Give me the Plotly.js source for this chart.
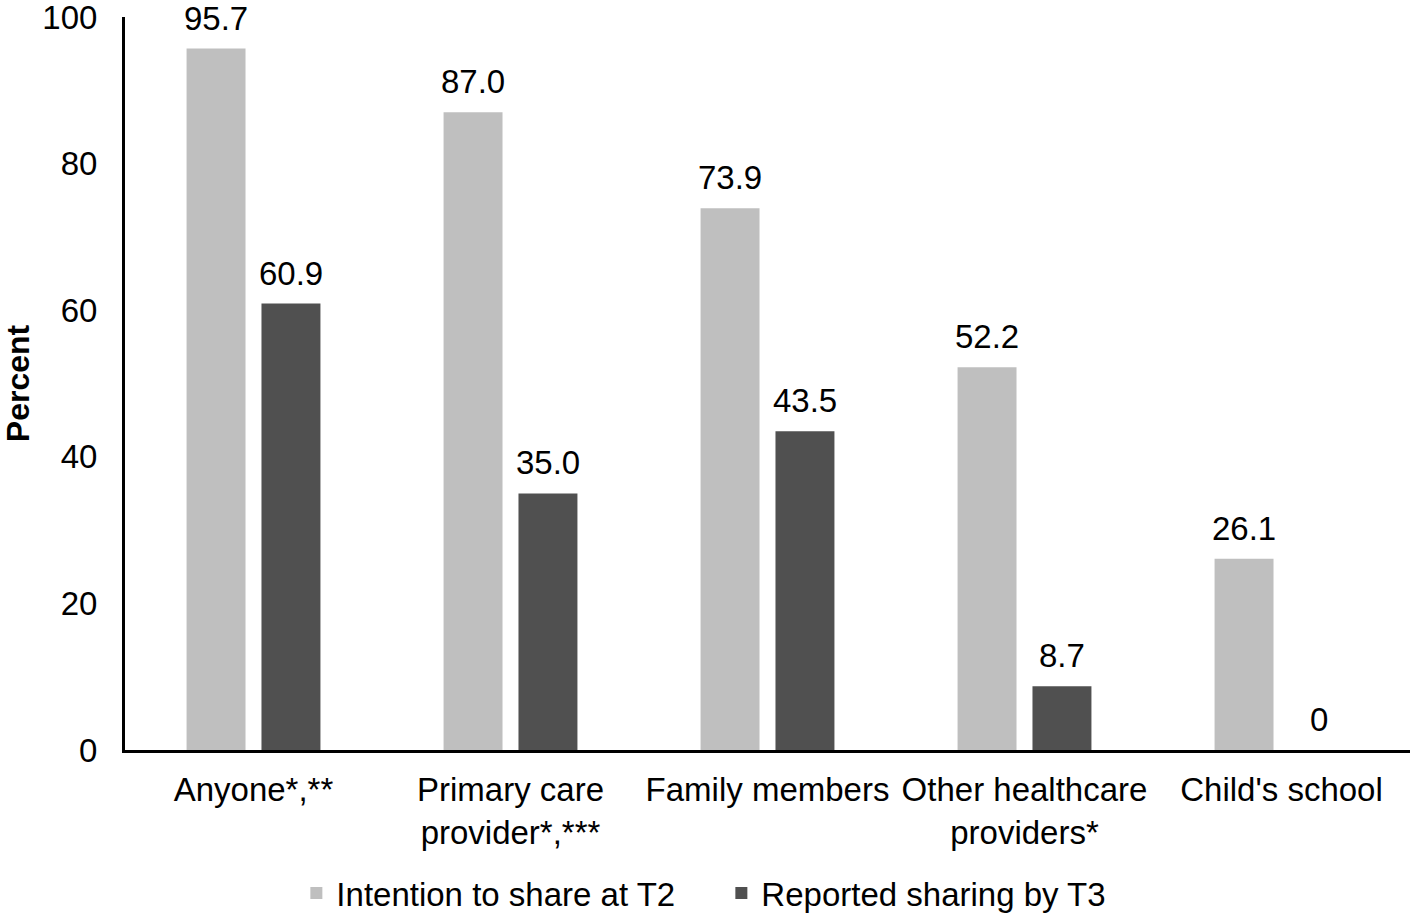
<!DOCTYPE html>
<html>
<head>
<meta charset="utf-8">
<script src="https://cdn.plot.ly/plotly-3.0.1.min.js"></script>
<style>html,body{margin:0;padding:0;background:#fff;}#chart{width:1418px;height:914px;}</style>
</head>
<body>
<div id="chart"></div>
<script>
const categories = ["Anyone*,**", "Primary care<br>provider*,***", "Family members", "Other healthcare<br>providers*", "Child's school"];
const intentionT2 = [95.7, 87.0, 73.9, 52.2, 26.1];
const reportedT3 = [60.9, 35.0, 43.5, 8.7, 0];
const seriesNames = ["Intention to share at T2", "Reported sharing by T3"];
const yTicks = [0, 20, 40, 60, 80, 100];

const FONT = "Liberation Sans, Arial, sans-serif";
const FS = 33;
const fmt = v => v === 0 ? "0" : v.toFixed(1);

const traces = [
  {type: "bar", name: seriesNames[0], x: categories, y: intentionT2,
   marker: {color: "#BFBFBF", line: {width: 0}}, hoverinfo: "none"},
  {type: "bar", name: seriesNames[1], x: categories, y: reportedT3,
   marker: {color: "#505050", line: {width: 0}}, hoverinfo: "none"}
];

const annotations = [];
[intentionT2, reportedT3].forEach((arr, s) => {
  arr.forEach((v, i) => {
    annotations.push({x: categories[i], y: v, xref: "x", yref: "y", text: fmt(v),
      showarrow: false, yanchor: "bottom", xshift: s === 0 ? -37.5 : 37.5, yshift: 10,
      font: {family: FONT, size: FS, color: "#000"}});
  });
});

const layout = {
  width: 1418, height: 914,
  margin: {l: 125, r: 8, t: 17, b: 164},
  paper_bgcolor: "#fff", plot_bgcolor: "#fff",
  font: {family: FONT, size: FS, color: "#000"},
  barmode: "group", bargap: 0.417, bargroupgap: 0.213,
  showlegend: true,
  legend: {orientation: "h", xref: "container", yref: "container", x: 0.209, xanchor: "left",
           y: 0.023, yanchor: "middle", font: {family: FONT, size: FS, color: "#000"},
           itemwidth: 30, entrywidth: 380, entrywidthmode: "pixels", tracegroupgap: 0},
  xaxis: {type: "category", showline: true, linecolor: "#000", linewidth: 3, ticks: "",
          showgrid: false, zeroline: false, ticklabelstandoff: 8,
          tickfont: {family: FONT, size: FS, color: "#000"}},
  yaxis: {range: [0, 100], tickvals: yTicks, showline: true, linecolor: "#000", linewidth: 3,
          ticks: "", showgrid: false, zeroline: false, ticklabelstandoff: 18,
          ticklabeloverflow: "allow",
          tickfont: {family: FONT, size: FS, color: "#000"},
          title: {text: "<b>Percent</b>", font: {family: FONT, size: 32, color: "#000"}, standoff: 8}},
  annotations: annotations
};

Plotly.newPlot("chart", traces, layout, {displayModeBar: false, staticPlot: true});
</script>
</body>
</html>
